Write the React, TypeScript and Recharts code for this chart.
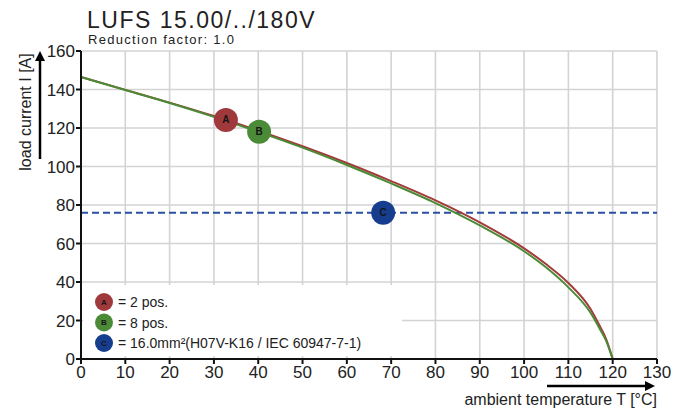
import React from "react";
import {
  CartesianGrid,
  Line,
  LineChart,
  ReferenceDot,
  ReferenceLine,
  XAxis,
  YAxis,
} from "recharts";

const temps = [0, 10, 20, 30, 40, 50, 60, 70, 80, 90, 100, 105, 110, 115, 117, 118.5, 120];
const twoPos = [146.5, 139.8, 133.2, 126.2, 118.6, 110.5, 101.8, 92.4, 82.4, 71.0, 57.5, 49.2, 39.5, 26.0, 17.5, 10.5, 0];
const eightPos = [146.5, 139.7, 133.0, 125.8, 118.0, 109.8, 100.8, 91.2, 81.0, 69.4, 56.0, 47.5, 37.2, 24.0, 16.0, 9.5, 0];

const xTicks = [0, 10, 20, 30, 40, 50, 60, 70, 80, 90, 100, 110, 120, 130];
const yTicks = [0, 20, 40, 60, 80, 100, 120, 140, 160];

const wireLimit = 76;
const markers = [
  { key: "A", t: 32.7, i: 124.2, fill: "#a0393b" },
  { key: "B", t: 40.2, i: 118.0, fill: "#4b8b37" },
  { key: "C", t: 68.2, i: 76, fill: "#173e8e" },
];
const legendItems = [
  { key: "A", text: "= 2 pos.", fill: "#a0393b" },
  { key: "B", text: "= 8 pos.", fill: "#4b8b37" },
  { key: "C", text: "= 16.0mm²(H07V-K16 / IEC 60947-7-1)", fill: "#173e8e" },
];

const data = temps.map((t, idx) => ({ t, a: twoPos[idx], b: eightPos[idx] }));

const font = "'Liberation Sans', Arial, Helvetica, sans-serif";
const ink = "#222";

export default function App() {
  return (
    <div style={{ position: "absolute", left: 0, top: 0, width: 691, height: 412, background: "#fff", fontFamily: font }}>
      <LineChart width={691} height={412} data={data} margin={{ top: 51, right: 34, bottom: 0, left: 0 }}>
        <CartesianGrid stroke="#d3d3d3" strokeWidth={1.6} horizontalValues={yTicks} verticalValues={xTicks} />
        <XAxis
          dataKey="t"
          type="number"
          domain={[0, 130]}
          ticks={xTicks}
          height={53}
          tickSize={5}
          tickMargin={2}
          axisLine={{ stroke: "#111", strokeWidth: 2 }}
          tickLine={{ stroke: "#111", strokeWidth: 2 }}
          tick={{ fill: ink, fontSize: 17, fontFamily: font }}
          interval={0}
        />
        <YAxis
          type="number"
          domain={[0, 160]}
          ticks={yTicks}
          width={81}
          tickSize={5}
          tickMargin={1}
          axisLine={{ stroke: "#111", strokeWidth: 2 }}
          tickLine={{ stroke: "#111", strokeWidth: 2 }}
          tick={{ fill: ink, fontSize: 17, fontFamily: font }}
          interval={0}
        />
        <ReferenceLine y={wireLimit} stroke="#2b4fa3" strokeWidth={2} strokeDasharray="7 4" />
        <Line dataKey="a" type="monotone" stroke="#a33a3c" strokeWidth={2} dot={false} isAnimationActive={false} />
        <Line dataKey="b" type="monotone" stroke="#4b8b35" strokeWidth={2} dot={false} isAnimationActive={false} />
        {markers.map((m) => (
          <ReferenceDot
            key={m.key}
            x={m.t}
            y={m.i}
            r={12}
            fill={m.fill}
            stroke="none"
            label={{ value: m.key, position: "center", fill: "#151515", fontSize: 10, fontWeight: 700, fontFamily: font }}
          />
        ))}
      </LineChart>
      <svg width={691} height={412} style={{ position: "absolute", left: 0, top: 0, pointerEvents: "none" }}>
        <defs>
          <marker id="arrowHead" markerWidth="4" markerHeight="4" refX="2" refY="2" orient="auto" markerUnits="strokeWidth">
            <path d="M0,0 L4,2 L0,4 z" fill="#000" />
          </marker>
        </defs>
        <text x={87} y={28} fontSize={23} fill={ink} letterSpacing={1.5}>LUFS 15.00/../180V</text>
        <text x={88} y={44} fontSize={13} fill={ink} letterSpacing={1.3}>Reduction factor: 1.0</text>
        <text transform="translate(31,112) rotate(-90)" textAnchor="middle" fontSize={16} fill={ink}>load current I [A]</text>
        <line x1={40} y1={159} x2={40} y2={56} stroke="#000" strokeWidth={2.5} markerEnd="url(#arrowHead)" />
        <text x={657} y={405} textAnchor="end" fontSize={16} fill={ink}>ambient temperature T [°C]</text>
        <line x1={547} y1={386} x2={650} y2={386} stroke="#000" strokeWidth={2.5} markerEnd="url(#arrowHead)" />
        <rect x={83} y={285} width={319} height={71} fill="#fff" />
        {legendItems.map((item, idx) => (
          <g key={item.key}>
            <circle cx={104} cy={302 + idx * 20.5} r={9} fill={item.fill} />
            <text x={104} y={302 + idx * 20.5} dy="0.35em" textAnchor="middle" fontSize={8} fontWeight={700} fill="#151515">{item.key}</text>
            <text x={118} y={302 + idx * 20.5} dy="0.36em" fontSize={14} fill={ink}>{item.text}</text>
          </g>
        ))}
      </svg>
    </div>
  );
}
